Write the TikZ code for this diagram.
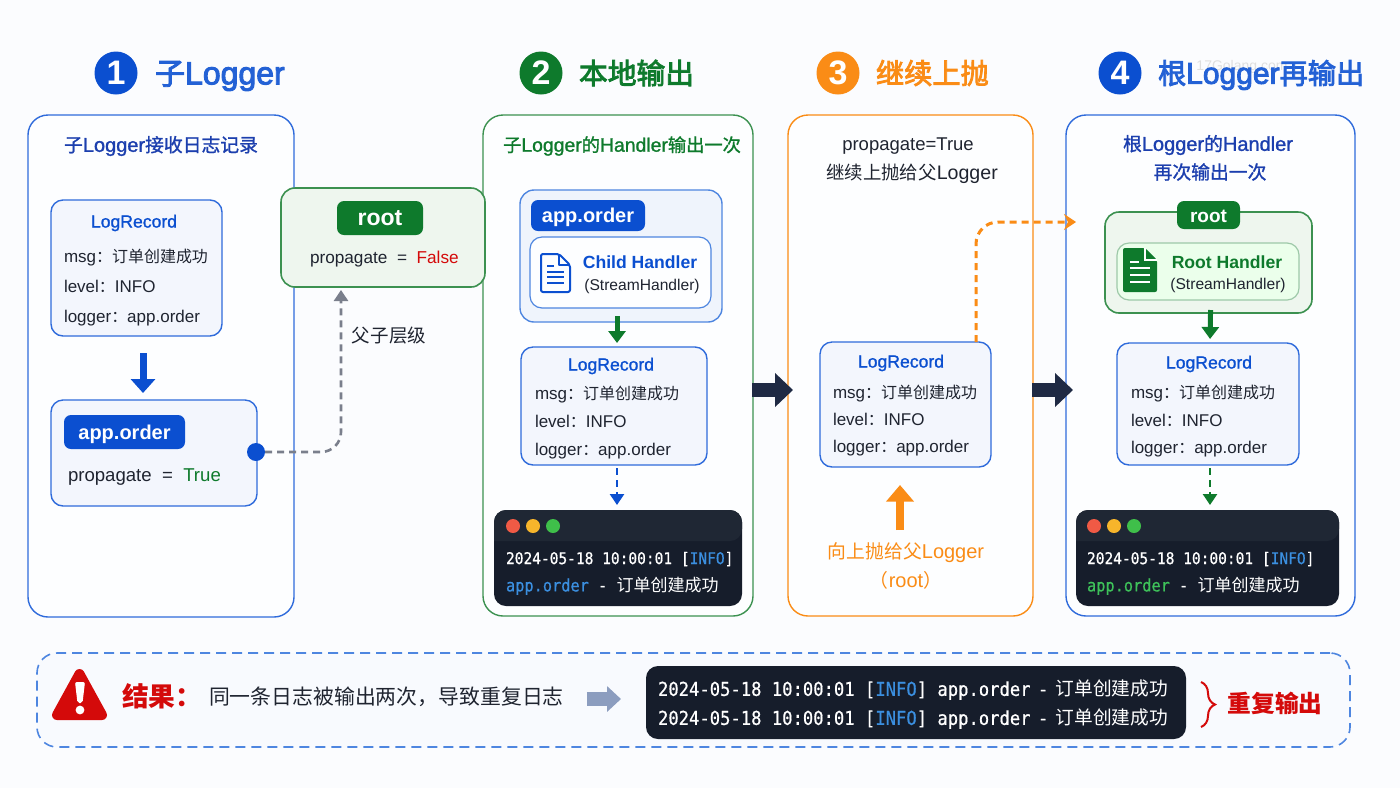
\documentclass[tikz,border=0pt]{standalone}
\usepackage{fontspec}
\setmainfont{Liberation Sans}
\newfontfamily\cjk[Scale=0.94]{Noto Sans CJK SC}
\newfontfamily\cjkm[Scale=0.94, FakeBold=1.2]{Noto Sans CJK SC}
\newfontfamily\latm[FakeBold=1.2]{Liberation Sans}
\newfontfamily\cjkh[Scale=0.94, FakeBold=3]{Noto Sans CJK SC}
\newfontfamily\lath[FakeBold=3]{Liberation Sans}
\newfontfamily\term[FakeStretch=0.9, FakeBold=0.6]{DejaVu Sans Mono}
\newcommand{\zh}[1]{{\cjk #1}}
\newcommand{\zhm}[1]{{\cjkm #1}}
\newcommand{\zhh}[1]{{\cjkh #1}}
\usetikzlibrary{arrows.meta, positioning, calc, decorations.pathreplacing}

\definecolor{bgpage}{HTML}{FBFCFE}
\definecolor{panelfill}{HTML}{FDFEFF}
\definecolor{lineblue}{HTML}{2F6BDB}
\definecolor{softblue}{HTML}{4E86E0}
\definecolor{mainblue}{HTML}{0B4FD0}
\definecolor{navy}{HTML}{1C3FAE}
\definecolor{mainblack}{HTML}{1F2430}
\definecolor{maingreen}{HTML}{0E7A2C}
\definecolor{linegreen}{HTML}{3C9150}
\definecolor{mainorange}{HTML}{FA8C16}
\definecolor{mainred}{HTML}{D40A0A}
\definecolor{termbg}{HTML}{161D2B}
\definecolor{termbar}{HTML}{1F2734}
\definecolor{termblue}{HTML}{3B8FE0}
\definecolor{termgreen}{HTML}{3EC25A}
\definecolor{bigarrow}{HTML}{1F2A44}
\definecolor{greyline}{HTML}{7A7F8C}
\definecolor{greyarrow}{HTML}{8C9DBF}
\definecolor{logfill}{HTML}{F3F6FD}
\definecolor{appfill}{HTML}{EFF4FC}
\definecolor{rootfill}{HTML}{EEF6EE}
\definecolor{resultfill}{HTML}{F8FAFE}
\definecolor{lightred}{HTML}{F05A45}
\definecolor{lightyellow}{HTML}{F7B52B}
\definecolor{lightgreen}{HTML}{3FBF4A}

\begin{document}
\begin{tikzpicture}[
    x=0.5pt, y=-0.5pt,
    every node/.style={inner sep=0pt, outer sep=0pt},
    wh/.style 2 args={minimum width=#1*0.5pt, minimum height=#2*0.5pt},
    panel/.style={rectangle, rounded corners=10pt, draw=#1, line width=0.7pt, fill=panelfill},
    logbox/.style={rectangle, rounded corners=6pt, draw=lineblue, line width=0.7pt, fill=logfill},
    rootbox/.style={rectangle, rounded corners=7pt, draw=linegreen, line width=0.8pt, fill=rootfill},
    badge/.style={rectangle, rounded corners=3.5pt, fill=#1, text=white, text height=0.7em, text depth=0pt},
    step num/.style={circle, fill=#1, text=white, minimum size=21.5pt, font=\fontsize{17}{20}\selectfont\bfseries},
    heading/.style={anchor=west, font=\fontsize{#1}{18}\selectfont\lath},
    subtitle/.style={font=\fontsize{10}{12}\selectfont\latm},
    plaintitle/.style={text=mainblack, font=\fontsize{9.8}{12}\selectfont},
    logtitle/.style={text=mainblue, font=\fontsize{8.8}{11}\selectfont\latm},
    logline/.style={anchor=base west, text=mainblack, font=\fontsize{8.5}{10}\selectfont},
    termline/.style={anchor=west, text=white, font=\fontsize{#1}{10}\selectfont\term},
    termbox/.style={rectangle, rounded corners=6pt, fill=termbg},
    light/.style={circle, fill=#1, minimum size=7pt},
    bluearrow/.style={mainblue, line width=3.5pt, -{Triangle[width=12pt, length=7pt]}},
    greenarrow/.style={maingreen, line width=2.5pt, -{Triangle[width=8.5pt, length=6pt]}},
    darkarrow/.style={bigarrow, line width=7pt, -{Triangle[width=16.5pt, length=9pt]}},
    dasharrow/.style={#1, line width=1.3pt, dash pattern=on 3.5pt off 2.5pt, -{Triangle[width=7pt, length=5.5pt]}},
]

% Page
\fill[bgpage] (0,0) rectangle (1400,788);
\useasboundingbox (0,0) rectangle (1400,788);

% Headings
\node[text=gray!25, font=\fontsize{7}{8}\selectfont] (watermark) at (1242,67) {17Golang.com};
\node[step num=mainblue] (num_a) at (116,73) {1};
\node[step num=maingreen] (num_b) at (541,73) {2};
\node[step num=mainorange] (num_c) at (838,73) {3};
\node[step num=mainblue] (num_d) at (1120,73) {4};
\node[heading=16, text=mainblue!90!white] (head_a) at (155,76) {\zhh{子}Logger};
\node[heading=15.3, text=maingreen] (head_b) at (579,73) {\zhh{本地输出}};
\node[heading=15, text=mainorange] (head_c) at (876,73) {\zhh{继续上抛}};
\node[heading=15, text=mainblue!90!white] (head_d) at (1158,75) {\zhh{根}Logger\zhh{再输出}};

% Panels
\node[panel=lineblue, wh={266}{502}] (panel_a) at (161,366) {};
\node[panel=linegreen, wh={270}{501}] (panel_b) at (618,365.5) {};
\node[panel=mainorange, wh={245}{501}] (panel_c) at (910.5,365.5) {};
\node[panel=lineblue, wh={289}{501}] (panel_d) at (1210.5,365.5) {};

% Panel titles
\node[subtitle, text=navy] (title_a) at (161,146) {\zhm{子}Logger\zhm{接收日志记录}};
\node[subtitle, text=maingreen, font=\fontsize{9.7}{12}\selectfont\latm] (title_b) at (622,146) {\zhm{子}Logger\zhm{的}Handler\zhm{输出一次}};
\node[plaintitle, font=\fontsize{9.25}{12}\selectfont] (title_c1) at (908,146) {propagate=True};
\node[plaintitle] (title_c2) at (912,174) {\zh{继续上抛给父}Logger};
\node[subtitle, text=navy] (title_d1) at (1208,145) {\zhm{根}Logger\zhm{的}Handler};
\node[subtitle, text=navy] (title_d2) at (1210,172) {\zhm{再次输出一次}};

% Step 1
\node[logbox, wh={171}{136}] (logrec_a) at (136.5,268) {};
\node[logtitle] (logrec_a_t) at ($(logrec_a.north west) + (83,23)$) {LogRecord};
\node[logline] (logrec_a_m) at ($(logrec_a.north west) + (13,62)$) {msg\zh{：订单创建成功}};
\node[logline] (logrec_a_l) at ($(logrec_a.north west) + (13,92)$) {level\zh{：}INFO};
\node[logline] (logrec_a_g) at ($(logrec_a.north west) + (13,122)$) {logger\zh{：}app.order};
\node[logbox, wh={206}{106}] (order_a) at (154,453) {};
\node[badge=mainblue, wh={121}{34}, font=\fontsize{10}{12}\selectfont\bfseries] (order_a_b) at ($(order_a.north west) + (73.5,32)$) {app.order};
\node[logline, font=\fontsize{9.3}{11}\selectfont] (order_a_p) at ($(order_a.north west) + (17,81)$) {propagate\ \ =\ \ \textcolor{maingreen}{True}};
\node[circle, fill=mainblue, minimum size=9pt] (dot_a) at (256,452) {};

% Root logger
\node[rootbox, wh={204}{99}] (root_box) at (383,237.5) {};
\node[badge=maingreen, wh={86}{34}, font=\fontsize{11.5}{14}\selectfont\bfseries] (root_box_b) at ($(root_box.north west) + (99,30)$) {root};
\node[logline, font=\fontsize{8.6}{11}\selectfont] (root_box_p) at ($(root_box.north west) + (29,75)$) {propagate\ \ =\ \ \textcolor{mainred}{False}};
\node[text=mainblack, font=\fontsize{9.85}{11}\selectfont] (parent_lbl) at (389,336) {\zh{父子层级}};

% Step 2
\node[rectangle, rounded corners=7pt, draw=softblue, line width=0.7pt, fill=appfill, wh={202}{132}] (app_b) at (621,256) {};
\node[badge=mainblue, wh={114}{31}, font=\fontsize{10}{12}\selectfont\bfseries] (app_b_b) at (588,215.5) {app.order};
\node[rectangle, rounded corners=6pt, draw=softblue, line width=0.6pt, fill=panelfill, wh={181}{71}] (child_b) at (620.5,272.5) {};
\node[text=mainblue, font=\fontsize{8.8}{11}\selectfont\bfseries] (child_b_t) at (640,262) {Child Handler};
\node[text=mainblack, font=\fontsize{7.8}{10}\selectfont] (child_b_s) at (642,286) {(StreamHandler)};
\node[logbox, wh={186}{118}] (logrec_b) at (614,406) {};
\node[logtitle] (logrec_b_t) at ($(logrec_b.north west) + (90,19)$) {LogRecord};
\node[logline] (logrec_b_m) at ($(logrec_b.north west) + (14,52)$) {msg\zh{：订单创建成功}};
\node[logline] (logrec_b_l) at ($(logrec_b.north west) + (14,80)$) {level\zh{：}INFO};
\node[logline] (logrec_b_g) at ($(logrec_b.north west) + (14,108)$) {logger\zh{：}app.order};
\node[termbox, wh={248}{96}] (term_b) at (618,558) {};

% Step 3
\node[logbox, wh={171}{125}] (logrec_c) at (905.5,404.5) {};
\node[logtitle] (logrec_c_t) at ($(logrec_c.north west) + (81,21)$) {LogRecord};
\node[logline] (logrec_c_m) at ($(logrec_c.north west) + (13,56)$) {msg\zh{：订单创建成功}};
\node[logline] (logrec_c_l) at ($(logrec_c.north west) + (13,83)$) {level\zh{：}INFO};
\node[logline] (logrec_c_g) at ($(logrec_c.north west) + (13,110)$) {logger\zh{：}app.order};
\node[text=mainorange, font=\fontsize{10}{12}\selectfont] (up_lbl) at (906,553) {\zh{向上抛给父}Logger};
\node[text=mainorange, font=\fontsize{10}{12}\selectfont] (up_lbl2) at (906,580) {\zh{（}root\zh{）}};
\coordinate (up_from) at (900,530);
\coordinate (up_to) at (900,485);
\coordinate (hop) at (1076,222);

% Step 4
\node[rootbox, wh={207}{101}] (root_d) at (1208.5,262.5) {};
\node[badge=maingreen, wh={63}{28}, font=\fontsize{9.5}{12}\selectfont\bfseries] (root_d_b) at (1208.5,215) {root};
\node[rectangle, rounded corners=6pt, draw=linegreen!50!white, line width=0.6pt, fill=white!92!green, wh={182}{57}] (handler_d) at (1208,271.5) {};
\node[text=maingreen, font=\fontsize{8.8}{11}\selectfont\bfseries] (handler_d_t) at (1227,262) {Root Handler};
\node[text=mainblack, font=\fontsize{7.8}{10}\selectfont] (handler_d_s) at (1228,285) {(StreamHandler)};
\node[logbox, wh={182}{122}] (logrec_d) at (1208,404) {};
\node[logtitle] (logrec_d_t) at ($(logrec_d.north west) + (92,21)$) {LogRecord};
\node[logline] (logrec_d_m) at ($(logrec_d.north west) + (14,55)$) {msg\zh{：订单创建成功}};
\node[logline] (logrec_d_l) at ($(logrec_d.north west) + (14,83)$) {level\zh{：}INFO};
\node[logline] (logrec_d_g) at ($(logrec_d.north west) + (14,110)$) {logger\zh{：}app.order};
\node[termbox, wh={263}{96}] (term_d) at (1207.5,558) {};

% Terminal title bars
\fill[termbar, rounded corners=6pt] (494,541) -- (494,510) -- (742,510) -- (742,541) [sharp corners] -- cycle;
\fill[termbar, rounded corners=6pt] (1076,541) -- (1076,510) -- (1339,510) -- (1339,541) [sharp corners] -- cycle;
\foreach \tx/\name in {513/b, 1094/d} {
    \node[light=lightred] (red_\name) at (\tx,526) {};
    \node[light=lightyellow, right=3pt of red_\name] (yellow_\name) {};
    \node[light=lightgreen, right=3pt of yellow_\name] (green_\name) {};
}

% Terminal text
\node[termline=8.07] (term_b_a) at (506,559) {2024-05-18 10:00:01 [\textcolor{termblue}{INFO}]};
\node[termline=8.5] (term_b_b) at (506,586) {\textcolor{termblue}{app.order} - {\cjk\fontsize{9.05}{10}\selectfont 订单创建成功}};
\node[termline=8.07] (term_d_a) at (1087,559) {2024-05-18 10:00:01 [\textcolor{termblue}{INFO}]};
\node[termline=8.5] (term_d_b) at (1087,586) {\textcolor{termgreen}{app.order} - {\cjk\fontsize{9.05}{10}\selectfont 订单创建成功}};

% Document icons
\draw[mainblue, line width=1pt, line join=round, rounded corners=1pt, fill=panelfill] (541,254) -- (559,254) -- (570,265) -- (570,292) -- (541,292) -- cycle;
\draw[mainblue, line width=1pt, line join=round] (559,254) -- (559,265) -- (570,265);
\draw[mainblue, line width=1pt] (547,266) -- (554,266);
\foreach \ly in {272,277,283} {
    \draw[mainblue, line width=1pt] (547,\ly) -- (564,\ly);
}
\fill[maingreen, rounded corners=1pt] (1123,248) -- (1145,248) -- (1157,260) -- (1157,292) -- (1123,292) -- cycle;
\draw[white, line width=0.8pt] (1145,248) -- (1145,260) -- (1157,260);
\draw[white, line width=1pt] (1130,262) -- (1139,262);
\foreach \ly in {268,275,282} {
    \draw[white, line width=1pt] (1130,\ly) -- (1150,\ly);
}

% Arrows
\draw[bluearrow, shorten <=8.5pt, shorten >=3.5pt] ([xshift=3.25pt]logrec_a.south) -- ([xshift=-5.5pt]order_a.north);
\draw[dasharrow=greyline, rounded corners=10pt, shorten >=1.5pt] (dot_a.east) -| ([xshift=-21pt]root_box.south);
\draw[greenarrow, shorten <=-3pt, shorten >=2pt] ([xshift=-2pt]app_b.south) -- ([xshift=1.5pt]logrec_b.north);
\draw[dasharrow=mainblue, shorten <=1.5pt, shorten >=2.5pt] ([xshift=1.5pt]logrec_b.south) -- ([xshift=-0.5pt]term_b.north);
\draw[darkarrow, shorten <=-0.5pt, shorten >=-2.5pt] ([yshift=-12.25pt]panel_b.east) -- ([yshift=-12.25pt]panel_c.west);
\draw[darkarrow, shorten <=-0.5pt, shorten >=-3.5pt] ([yshift=-12.25pt]panel_c.east) -- ([yshift=-12.25pt]panel_d.west);
\draw[mainorange, line width=1.5pt, dash pattern=on 3.5pt off 2.5pt, rounded corners=11pt, -{Stealth[width=8pt, length=6pt]}] ([xshift=35.25pt]logrec_c.north) |- (hop);
\draw[mainorange, line width=4pt, -{Triangle[width=13.5pt, length=8.3pt]}] (up_from) -- (up_to);
\draw[greenarrow, shorten <=-1.5pt, shorten >=2pt] ([xshift=1pt]root_d.south) -- ([xshift=1pt]logrec_d.north);
\draw[dasharrow=maingreen, shorten <=1.5pt, shorten >=2.5pt] ([xshift=1pt]logrec_d.south) -- ([xshift=1.25pt]term_d.north);

% Result bar
\node[rectangle, rounded corners=10pt, draw=softblue, line width=0.8pt, dash pattern=on 5pt off 3pt, fill=resultfill, wh={1313}{94}] (result_box) at (693.5,700) {};
\filldraw[mainred, line width=5pt, line join=round] (79.5,674) -- (102,715) -- (57,715) -- cycle;
\fill[white, rounded corners=1pt] (75,682) -- (85,682) -- (82.5,703) -- (77.5,703) -- cycle;
\fill[white] (80,710) circle (2.2pt);
\node[anchor=west, text=mainred, font=\fontsize{14.2}{16}\selectfont\bfseries] (result_lbl) at (122,696) {\zh{结果：}};
\node[anchor=west, text=mainblack, font=\fontsize{11.1}{13}\selectfont] (summary) at (209,697) {\zh{同一条日志被输出两次，导致重复日志}};
\node[termbox, wh={540}{73}] (term_e) at (916,702.5) {};
\node[termline=9.55] (term_e_a) at (658,690) {2024-05-18 10:00:01 [\textcolor{termblue}{INFO}] app.order\kern-1.5pt\ -\kern-1.5pt\ {\cjk\fontsize{9.95}{11}\selectfont 订单创建成功}};
\node[termline=9.55] (term_e_b) at (658,719) {2024-05-18 10:00:01 [\textcolor{termblue}{INFO}] app.order\kern-1.5pt\ -\kern-1.5pt\ {\cjk\fontsize{9.95}{11}\selectfont 订单创建成功}};
\draw[greyarrow, line width=7pt, -{Triangle[width=12.5pt, length=7pt]}, shorten <=11.5pt, shorten >=12.5pt] ([yshift=-1pt]summary.east) -- ([yshift=1.75pt]term_e.west);
\draw[mainred, line width=1pt, decorate, decoration={brace, amplitude=7pt, aspect=0.5}] (1201,682) -- (1201,727);
\node[text=mainred, font=\fontsize{12.6}{14}\selectfont\bfseries] (dup_lbl) at (1275,703) {\zh{重复输出}};

\end{tikzpicture}
\end{document}
